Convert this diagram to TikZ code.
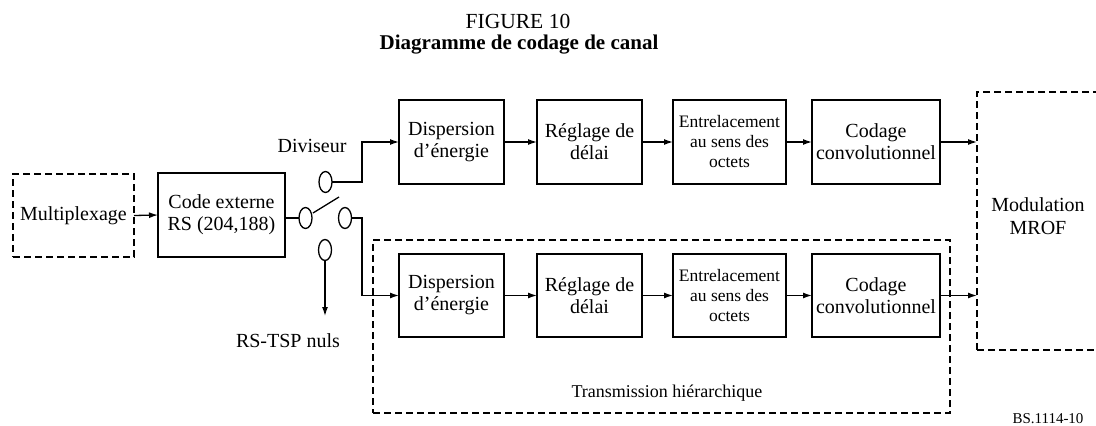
\documentclass[tikz,border=0pt]{standalone}
\usepackage{fontspec}
\setmainfont{Liberation Serif}
\usetikzlibrary{shapes.geometric,arrows.meta}
\begin{document}
\begin{tikzpicture}[x=1pt,y=-1pt,
  every node/.style={inner sep=0pt,outer sep=0pt},
  blk/.style={draw,line width=1.3pt,align=center,font=\fontsize{20}{22}\selectfont},
  dblk/.style={draw,line width=1.3pt,dash pattern=on 7pt off 4pt,align=center,font=\fontsize{20}{22}\selectfont},
  grp/.style={draw,line width=1.3pt,dash pattern=on 7pt off 4pt},
  sw/.style={draw,ellipse,line width=1.3pt,minimum width=13pt,minimum height=21pt},
  wire/.style={line width=1.3pt},
  arr/.style={line width=1.3pt,-{Latex[length=9pt,width=6pt]}},
  lbl/.style={font=\fontsize{20}{22}\selectfont,anchor=base}]
\useasboundingbox (0,0) rectangle (1096,426);
\fill[white] (0,0) rectangle (1096,426);
% titles
\node[anchor=base,font=\fontsize{21.5}{24}\selectfont] (t1) at (518,28) {FIGURE 10};
\node[anchor=base,font=\fontsize{21}{24}\selectfont\bfseries] (t2) at (519,49) {Diagramme de codage de canal};
% groups
\node[grp,minimum width=577pt,minimum height=173pt] (hier) at (661.5,326.5) {};
\begin{scope}
\clip (0,0) rectangle (1096,426);
\node[dblk,minimum width=125pt,minimum height=258pt] (mrof) at (1039.5,221) {};
\end{scope}
\node[align=center,font=\fontsize{20}{23}\selectfont] (mroft) at (1038,216) {Modulation\\MROF};
% left blocks
\node[dblk,minimum width=121pt,minimum height=83pt] (mux) at (73.5,215.5) {Multiplexage};
\node[blk,minimum width=127pt,minimum height=84pt] (code) at (221.5,215) {Code externe\\RS (204,188)};
% upper row
\node[blk,minimum width=105pt,minimum height=84pt] (d1) at (451.5,142) {Dispersion\\d'énergie};
\node[blk,minimum width=105pt,minimum height=84pt] (r1) at (589.5,142) {Réglage de\\délai};
\node[blk,minimum width=113pt,minimum height=84pt,font=\fontsize{17.5}{20}\selectfont] (e1) at (729.5,142) {Entrelacement\\au sens des\\octets};
\node[blk,minimum width=128pt,minimum height=84pt] (c1) at (876,142) {Codage\\convolutionnel};
% lower row
\node[blk,minimum width=105pt,minimum height=83pt] (d2) at (451.5,295.5) {Dispersion\\d'énergie};
\node[blk,minimum width=105pt,minimum height=83pt] (r2) at (589.5,295.5) {Réglage de\\délai};
\node[blk,minimum width=113pt,minimum height=83pt,font=\fontsize{17.5}{20}\selectfont] (e2) at (729.5,295.5) {Entrelacement\\au sens des\\octets};
\node[blk,minimum width=128pt,minimum height=83pt] (c2) at (876,295.5) {Codage\\convolutionnel};
% switch
\node[sw] (s0) at (305.5,218) {};
\node[sw] (su) at (325.5,182) {};
\node[sw] (sr) at (345,218) {};
\node[sw] (sd) at (325,250) {};
\coordinate (lev1) at (313,213);
\coordinate (lev2) at (339,197);
\coordinate (sdend) at (325,316);
% labels
\node[lbl] (div) at (312,152) {Diviseur};
\node[lbl] (nuls) at (288,347) {RS-TSP nuls};
\node[anchor=base,font=\fontsize{18}{20}\selectfont] (hiert) at (667,397) {Transmission hiérarchique};
\node[anchor=base,font=\fontsize{15}{17}\selectfont] (bs) at (1048,423) {BS.1114-10};
% connectors
\draw[arr] (mux.east) -- (code.west);
\draw[wire] (code.east |- s0.west) -- (s0.west);
\draw[wire] (lev1) -- (lev2);
\draw[arr] (su.east) -- (362,182) -- (362,142) -- (d1.west);
\draw[arr] (sr.east) -- (362,218) -- (362,295.5) -- (d2.west);
\draw[arr] (sd.south) -- (sdend);
\draw[arr] (d1.east) -- (r1.west);
\draw[arr] (r1.east) -- (e1.west);
\draw[arr] (e1.east) -- (c1.west);
\draw[arr] (c1.east) -- (c1.east -| mrof.west);
\draw[arr] (d2.east) -- (r2.west);
\draw[arr] (r2.east) -- (e2.west);
\draw[arr] (e2.east) -- (c2.west);
\draw[arr] (c2.east) -- (c2.east -| mrof.west);
\end{tikzpicture}
\end{document}
